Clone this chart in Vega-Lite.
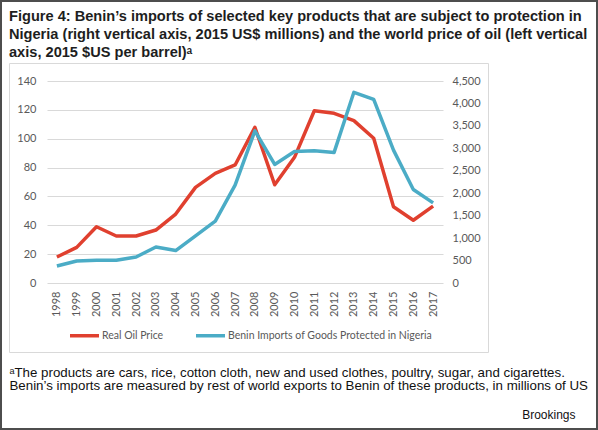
{
  "$schema": "https://vega.github.io/schema/vega-lite/v6.json",
  "autosize": {"type": "none"},
  "padding": {"left": 9, "top": 63, "right": 110, "bottom": 78},
  "width": 479,
  "height": 289,
  "background": "white",
  "title": {
    "text": [
      "Figure 4: Benin’s imports of selected key products that are subject to protection in",
      "Nigeria (right vertical axis, 2015 US$ millions) and the world price of oil (left vertical",
      "axis, 2015 $US per barrel)ᵃ"
    ],
    "anchor": "start",
    "frame": "group",
    "baseline": "bottom",
    "font": "Liberation Sans",
    "fontSize": 14.6,
    "fontWeight": "bold",
    "color": "#1e1e1e",
    "lineHeight": 18,
    "offset": 0,
    "dy": 75
  },
  "data": {
    "values": [
      {"year": 1998, "oil": 18, "imports": 379},
      {"year": 1999, "oil": 24.7, "imports": 491},
      {"year": 2000, "oil": 39, "imports": 506},
      {"year": 2001, "oil": 32.6, "imports": 506},
      {"year": 2002, "oil": 32.6, "imports": 580},
      {"year": 2003, "oil": 36.7, "imports": 803},
      {"year": 2004, "oil": 47.8, "imports": 723},
      {"year": 2005, "oil": 66.3, "imports": 1049},
      {"year": 2006, "oil": 76, "imports": 1377},
      {"year": 2007, "oil": 81.8, "imports": 2180},
      {"year": 2008, "oil": 107.9, "imports": 3391},
      {"year": 2009, "oil": 68.1, "imports": 2641},
      {"year": 2010, "oil": 87.1, "imports": 2931},
      {"year": 2011, "oil": 119.4, "imports": 2945},
      {"year": 2012, "oil": 117.6, "imports": 2909},
      {"year": 2013, "oil": 112.5, "imports": 4248},
      {"year": 2014, "oil": 100.3, "imports": 4092},
      {"year": 2015, "oil": 52.8, "imports": 2960},
      {"year": 2016, "oil": 43.5, "imports": 2084},
      {"year": 2017, "oil": 53.3, "imports": 1785}
    ]
  },
  "layer": [
    {
      "data": {"values": [{}]},
      "mark": {"type": "rect", "fill": null, "stroke": "#4d4d4d", "strokeWidth": 2},
      "encoding": {
        "x": {
          "datum": 1995.177, "type": "quantitative",
          "scale": {"domain": [1997.5, 2017.5], "range": [38, 434], "nice": false, "zero": false},
          "axis": {
            "orient": "bottom", "offset": -69,
            "values": [1998, 1999, 2000, 2001, 2002, 2003, 2004, 2005, 2006, 2007, 2008, 2009, 2010, 2011, 2012, 2013, 2014, 2015, 2016, 2017],
            "format": "d", "labelAngle": -90, "labelPadding": 8, "labelFlush": false, "labelOverlap": false,
            "title": [
              "ᵃThe products are cars, rice, cotton cloth, new and used clothes, poultry, sugar, and cigarettes.",
              "Benin’s imports are measured by rest of world exports to Benin of these products, in millions of US"
            ],
            "titleX": 0, "titleY": 93, "titleAlign": "left", "titleAnchor": "start", "titleBaseline": "alphabetic",
            "titleFont": "Liberation Sans", "titleFontSize": 13.3, "titleFontWeight": "normal", "titleColor": "#111111",
            "titleLineHeight": 13.5
          }
        },
        "x2": {"datum": 2025.278},
        "y": {"datum": 195.45, "type": "quantitative", "scale": {"domain": [0, 140], "range": [220, 18], "nice": false}, "axis": null},
        "y2": {"datum": -101.19}
      }
    },
    {
      "data": {"values": [{}]},
      "mark": {"type": "rect", "fill": null, "stroke": "#d9d9d9", "strokeWidth": 1},
      "encoding": {
        "x": {
          "datum": 1995.606, "type": "quantitative",
          "axis": {
            "orient": "bottom", "offset": -69,
            "values": [1998, 1999, 2000, 2001, 2002, 2003, 2004, 2005, 2006, 2007, 2008, 2009, 2010, 2011, 2012, 2013, 2014, 2015, 2016, 2017],
            "format": "d", "labelAngle": -90, "labelPadding": 8, "labelFlush": false, "labelOverlap": false,
            "title": [
              "ᵃThe products are cars, rice, cotton cloth, new and used clothes, poultry, sugar, and cigarettes.",
              "Benin’s imports are measured by rest of world exports to Benin of these products, in millions of US"
            ],
            "titleX": 0, "titleY": 93, "titleAlign": "left", "titleAnchor": "start", "titleBaseline": "alphabetic",
            "titleFont": "Liberation Sans", "titleFontSize": 13.3, "titleFontWeight": "normal", "titleColor": "#111111",
            "titleLineHeight": 13.5
          }
        },
        "x2": {"datum": 2019.798},
        "y": {"datum": 152.13, "type": "quantitative", "scale": {"domain": [0, 140], "range": [220, 18], "nice": false}, "axis": null},
        "y2": {"datum": -48.17}
      }
    },
    {
      "mark": {"type": "line", "strokeWidth": 3.5, "strokeJoin": "round"},
      "encoding": {
        "x": {
          "field": "year", "type": "quantitative",
          "axis": {
            "orient": "bottom", "offset": -69,
            "values": [1998, 1999, 2000, 2001, 2002, 2003, 2004, 2005, 2006, 2007, 2008, 2009, 2010, 2011, 2012, 2013, 2014, 2015, 2016, 2017],
            "format": "d", "labelAngle": -90, "labelPadding": 8, "labelFlush": false, "labelOverlap": false,
            "title": [
              "ᵃThe products are cars, rice, cotton cloth, new and used clothes, poultry, sugar, and cigarettes.",
              "Benin’s imports are measured by rest of world exports to Benin of these products, in millions of US"
            ],
            "titleX": 0, "titleY": 93, "titleAlign": "left", "titleAnchor": "start", "titleBaseline": "alphabetic",
            "titleFont": "Liberation Sans", "titleFontSize": 13.3, "titleFontWeight": "normal", "titleColor": "#111111",
            "titleLineHeight": 13.5
          }
        },
        "y": {
          "field": "oil", "type": "quantitative",
          "scale": {"domain": [0, 140], "range": [220, 18], "nice": false},
          "axis": {
            "orient": "left", "offset": -38, "values": [0, 20, 40, 60, 80, 100, 120, 140],
            "labelPadding": 11, "grid": true, "title": null
          }
        },
        "color": {"datum": "Real Oil Price"}
      }
    },
    {
      "mark": {"type": "line", "strokeWidth": 3.5, "strokeJoin": "round"},
      "encoding": {
        "x": {
          "field": "year", "type": "quantitative",
          "axis": {
            "orient": "bottom", "offset": -69,
            "values": [1998, 1999, 2000, 2001, 2002, 2003, 2004, 2005, 2006, 2007, 2008, 2009, 2010, 2011, 2012, 2013, 2014, 2015, 2016, 2017],
            "format": "d", "labelAngle": -90, "labelPadding": 8, "labelFlush": false, "labelOverlap": false,
            "title": [
              "ᵃThe products are cars, rice, cotton cloth, new and used clothes, poultry, sugar, and cigarettes.",
              "Benin’s imports are measured by rest of world exports to Benin of these products, in millions of US"
            ],
            "titleX": 0, "titleY": 93, "titleAlign": "left", "titleAnchor": "start", "titleBaseline": "alphabetic",
            "titleFont": "Liberation Sans", "titleFontSize": 13.3, "titleFontWeight": "normal", "titleColor": "#111111",
            "titleLineHeight": 13.5
          }
        },
        "y": {
          "field": "imports", "type": "quantitative",
          "scale": {"domain": [0, 4500], "range": [220, 18], "nice": false},
          "axis": {
            "orient": "right", "offset": -45, "values": [0, 500, 1000, 1500, 2000, 2500, 3000, 3500, 4000, 4500],
            "format": ",d", "labelPadding": 9, "grid": false,
            "title": "Brookings", "titleAngle": 0, "titleX": 132, "titleY": 355, "titleAlign": "right",
            "titleBaseline": "alphabetic", "titleFont": "Liberation Sans", "titleFontSize": 12,
            "titleFontWeight": "normal", "titleColor": "#111111"
          }
        },
        "color": {"datum": "Benin Imports of Goods Protected in Nigeria"}
      }
    }
  ],
  "resolve": {"scale": {"y": "independent"}},
  "config": {
    "view": {"stroke": null},
    "axis": {
      "ticks": false, "domain": false, "grid": false,
      "labelFont": "Lato", "labelFontSize": 11, "labelColor": "#595959",
      "gridColor": "#d9d9d9", "gridWidth": 1
    },
    "legend": {
      "orient": "none", "legendX": 59, "legendY": 256, "direction": "horizontal",
      "padding": 0, "title": null, "symbolType": "stroke", "symbolSize": 841, "symbolStrokeWidth": 3.5,
      "labelOffset": 1, "columnPadding": 25, "labelLimit": 0, "labelFont": "Lato", "labelFontSize": 10.5, "labelColor": "#595959"
    },
    "range": {"category": ["#E0402F", "#4BACC6"]}
  }
}
